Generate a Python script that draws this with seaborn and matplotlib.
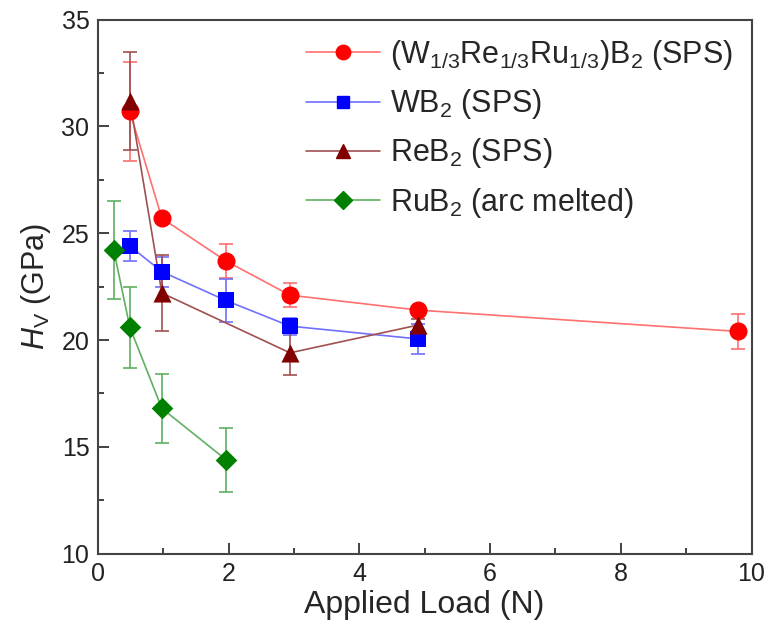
import seaborn as sns
import matplotlib.pyplot as plt
from matplotlib.lines import Line2D
import pandas as pd

# Vickers hardness vs applied load
load_wrerub2 = [0.49, 0.98, 1.96, 2.94, 4.9, 9.8]
hv_wrerub2 = [30.7, 25.7, 23.7, 22.1, 21.4, 20.4]
err_wrerub2 = [2.3, 0.0, 0.8, 0.55, 0.0, 0.8]

load_wb2 = [0.49, 0.98, 1.96, 2.94, 4.9]
hv_wb2 = [24.4, 23.2, 21.85, 20.65, 20.05]
err_wb2 = [0.7, 0.7, 1.0, 0.4, 0.7]

load_reb2 = [0.49, 0.98, 2.94, 4.9]
hv_reb2 = [31.2, 22.2, 19.4, 20.7]
err_reb2 = [2.3, 1.8, 1.05, 0.3]

load_rub2 = [0.245, 0.49, 0.98, 1.96]
hv_rub2 = [24.2, 20.6, 16.8, 14.4]
err_rub2 = [2.3, 1.9, 1.6, 1.5]

labels = [r'(W$_{1/3}$Re$_{1/3}$Ru$_{1/3}$)B$_2$ (SPS)',
          r'WB$_2$ (SPS)',
          r'ReB$_2$ (SPS)',
          r'RuB$_2$ (arc melted)']

sns.set_style('white')
plt.rcParams['font.family'] = ['Liberation Sans', 'DejaVu Sans']
plt.rcParams['mathtext.fontset'] = 'custom'
plt.rcParams['mathtext.rm'] = 'Liberation Sans'
plt.rcParams['mathtext.it'] = 'Liberation Sans:italic'
plt.rcParams['mathtext.default'] = 'regular'

series = [
    (load_wrerub2, hv_wrerub2, err_wrerub2, '#ff0000', '#ff7070', 'o', 13),
    (load_wb2, hv_wb2, err_wb2, '#0000ff', '#7070ff', 's', 11),
    (load_reb2, hv_reb2, err_reb2, '#800000', '#a05050', '^', 13),
    (load_rub2, hv_rub2, err_rub2, '#008000', '#60b060', 'D', 11),
]

fig = plt.figure(figsize=(7.7, 6.32), dpi=100)
ax = fig.add_axes([0.127, 0.124, 0.849, 0.845])

handles = []
for (x, y, e, col, light, mk, ms), lab in zip(series, labels):
    df = pd.DataFrame({'load': x, 'hv': y})
    sns.lineplot(data=df, x='load', y='hv', color=light, lw=1.2, ax=ax, zorder=2)
    ax.errorbar(x, y, yerr=e, fmt='none', ecolor=light, elinewidth=1.2,
                capsize=5, capthick=1.2, zorder=2)
    sns.scatterplot(data=df, x='load', y='hv', color=col, marker=mk, s=ms**2,
                    edgecolor=col, linewidth=0, ax=ax, zorder=3)
    handles.append(Line2D([], [], color=light, lw=1.2, marker=mk, markersize=ms * 0.8,
                          markerfacecolor=col, markeredgecolor=col, label=lab))

ax.set_xlim(0, 10)
ax.set_ylim(10, 35)
ax.set_xticks([0, 2, 4, 6, 8, 10])
ax.set_xticks([1, 3, 5, 7, 9], minor=True)
ax.set_yticks([10, 15, 20, 25, 30, 35])
ax.set_yticks([12.5, 17.5, 22.5, 27.5, 32.5], minor=True)
ax.tick_params(which='major', direction='in', length=8, width=1.2, labelsize=18,
               bottom=True, left=True, top=False, right=False, colors='#222222', pad=6)
ax.tick_params(which='minor', direction='in', length=4.5, width=1.2,
               bottom=True, left=True, top=False, right=False, colors='#222222')
for s in ax.spines.values():
    s.set_linewidth(1.5)
    s.set_color('#444444')

ax.set_xlabel('Applied Load (N)', fontsize=23, labelpad=3)
ax.set_ylabel(r'$\mathit{H}_{\mathrm{V}}$ (GPa)', fontsize=22, labelpad=6)

ax.legend(handles=handles, loc='upper right', frameon=False, fontsize=22,
          handlelength=2.4, labelspacing=0.5, handletextpad=0.35,
          borderaxespad=0.2)

fig.savefig('out.png', dpi=100)
